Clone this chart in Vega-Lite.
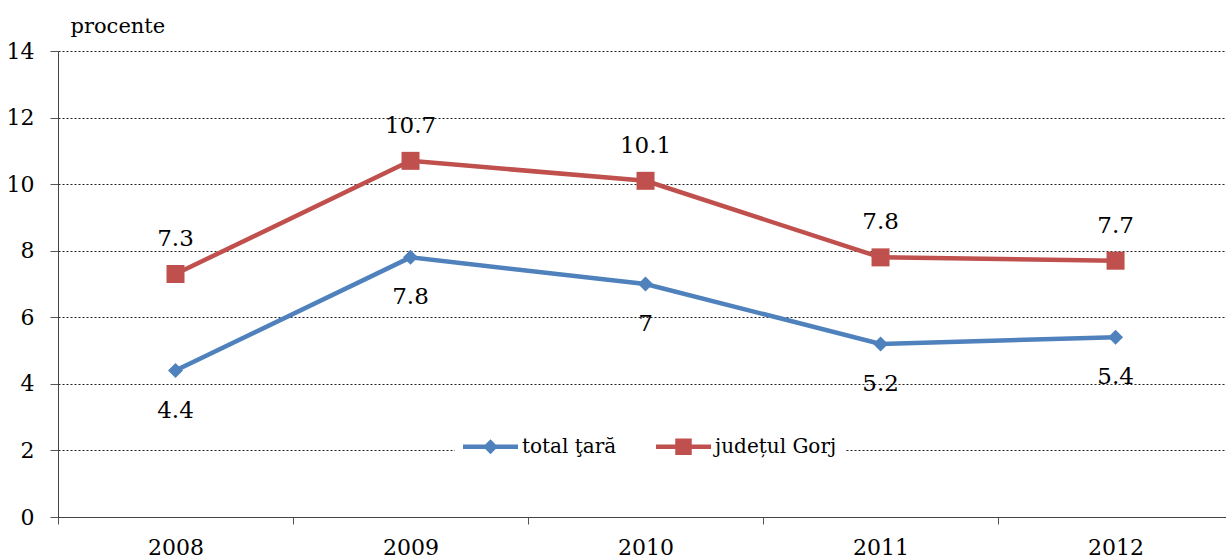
{
  "$schema": "https://vega.github.io/schema/vega-lite/v6.json",
  "width": 1168,
  "height": 466,
  "autosize": {"type": "none"},
  "padding": {"left": 58, "top": 51, "right": 0, "bottom": 43},
  "background": "white",
  "config": {
    "view": {"stroke": null},
    "font": "DejaVu Serif"
  },
  "data": {
    "values": [
      {"year": 2008, "series": "total ţară", "value": 4.4},
      {"year": 2009, "series": "total ţară", "value": 7.8},
      {"year": 2010, "series": "total ţară", "value": 7.0},
      {"year": 2011, "series": "total ţară", "value": 5.2},
      {"year": 2012, "series": "total ţară", "value": 5.4},
      {"year": 2008, "series": "județul Gorj", "value": 7.3},
      {"year": 2009, "series": "județul Gorj", "value": 10.7},
      {"year": 2010, "series": "județul Gorj", "value": 10.1},
      {"year": 2011, "series": "județul Gorj", "value": 7.8},
      {"year": 2012, "series": "județul Gorj", "value": 7.7}
    ]
  },
  "encoding": {
    "x": {
      "field": "year", "type": "quantitative",
      "scale": {"domain": [2007.5, 2012.47], "nice": false, "zero": false},
      "axis": {
        "title": null,
        "grid": false,
        "values": [2007.5, 2008, 2008.5, 2009, 2009.5, 2010, 2010.5, 2011, 2011.5, 2012],
        "labelExpr": "datum.value % 1 === 0 ? format(datum.value, 'd') : ''",
        "tickOpacity": {"condition": {"test": "datum.value % 1 === 0", "value": 0}, "value": 1},
        "tickSize": 7,
        "tickColor": "#555",
        "domainColor": "#444",
        "labelPadding": 13,
        "labelFont": "DejaVu Serif",
        "labelFontSize": 22,
        "labelColor": "black",
        "labelOverlap": false,
        "labelFlush": false,
        "labelBound": false
      }
    },
    "y": {
      "field": "value", "type": "quantitative",
      "scale": {"domain": [0, 14], "nice": false},
      "axis": {
        "values": [0, 2, 4, 6, 8, 10, 12, 14],
        "title": "procente",
        "titleAngle": 0,
        "titleAlign": "left",
        "titleBaseline": "alphabetic",
        "titleX": 12,
        "titleY": -19,
        "titleFont": "DejaVu Serif",
        "titleFontSize": 21,
        "titleFontWeight": "normal",
        "titleColor": "black",
        "grid": true,
        "gridDash": [2, 2],
        "gridColor": "#222",
        "gridWidth": 1,
        "tickSize": 8,
        "tickColor": "#555",
        "domainColor": "#444",
        "labelPadding": 16,
        "labelFont": "DejaVu Serif",
        "labelFontSize": 22,
        "labelColor": "black"
      }
    }
  },
  "layer": [
    {
      "mark": {"type": "line", "strokeWidth": 4.5},
      "encoding": {
        "color": {
          "field": "series", "type": "nominal",
          "scale": {"domain": ["total ţară", "județul Gorj"], "range": ["#4F81BD", "#C0504D"]},
          "legend": {
            "title": null,
            "orient": "none",
            "legendX": 397,
            "legendY": 360,
            "direction": "horizontal",
            "fillColor": "white",
            "padding": 8,
            "labelFont": "DejaVu Serif",
            "labelFontSize": 20,
            "labelColor": "black",
            "labelOffset": 4,
            "columnPadding": 39,
            "symbolSize": 3025,
            "encode": {
              "symbols": {
                "update": {
                  "shape": {"signal": "datum.value === 'total ţară' ? 'M-1,-0.08H1V0.08H-1Z M-0.27,0L0,-0.27L0.27,0L0,0.27Z' : 'M-1,-0.08H1V0.08H-1Z M-0.3,-0.3H0.3V0.3H-0.3Z'"},
                  "fill": {"signal": "datum.value === 'total ţară' ? '#4F81BD' : '#C0504D'"},
                  "stroke": {"value": "transparent"},
                  "strokeWidth": {"value": 0},
                  "size": {"value": 3025},
                  "opacity": {"value": 1},
                  "fillOpacity": {"value": 1}
                }
              }
            }
          }
        }
      }
    },
    {
      "transform": [{"filter": "datum.series === 'total ţară'"}],
      "mark": {"type": "point", "shape": "diamond", "filled": true, "size": 225, "color": "#4F81BD", "opacity": 1}
    },
    {
      "transform": [{"filter": "datum.series !== 'total ţară'"}],
      "mark": {"type": "point", "shape": "square", "filled": true, "size": 324, "color": "#C0504D", "opacity": 1}
    },
    {
      "transform": [{"filter": "datum.series === 'total ţară'"}],
      "mark": {"type": "text", "dy": 40, "baseline": "middle", "font": "DejaVu Serif", "fontSize": 23, "color": "black"},
      "encoding": {"text": {"field": "value", "type": "quantitative"}}
    },
    {
      "transform": [{"filter": "datum.series !== 'total ţară'"}],
      "mark": {"type": "text", "dy": -35, "baseline": "middle", "font": "DejaVu Serif", "fontSize": 23, "color": "black"},
      "encoding": {"text": {"field": "value", "type": "quantitative"}}
    }
  ]
}
